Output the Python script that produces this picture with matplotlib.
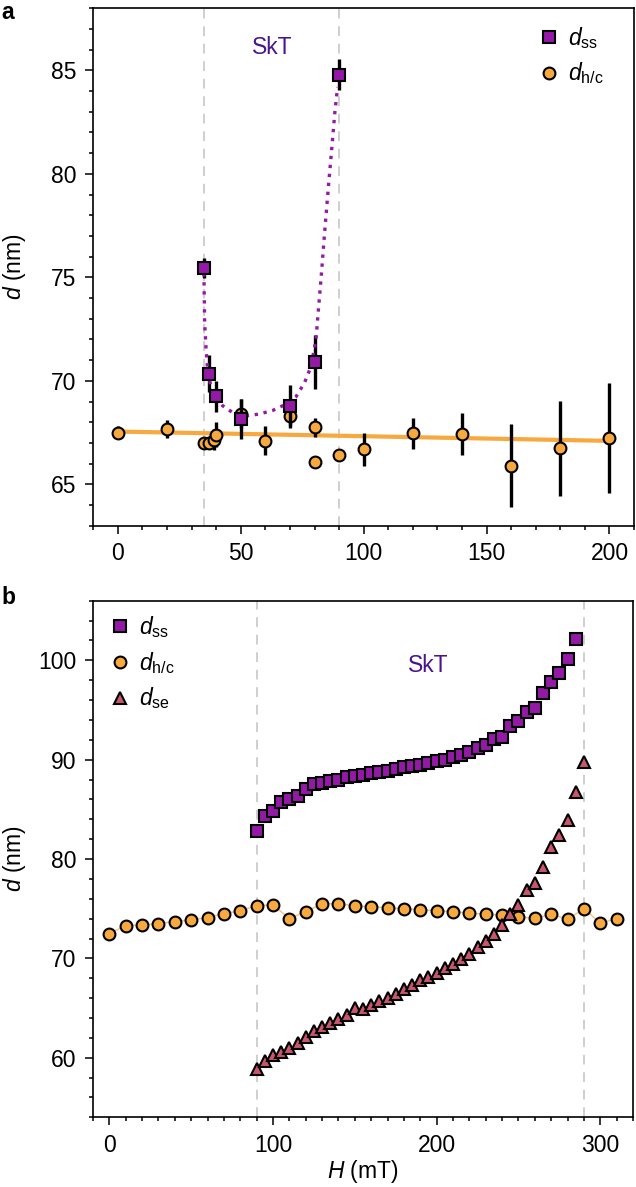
import matplotlib
matplotlib.use("Agg")
import matplotlib.pyplot as plt
from matplotlib.ticker import MultipleLocator

plt.rcParams['font.family'] = ['Liberation Sans', 'DejaVu Sans']
plt.rcParams['mathtext.fontset'] = 'custom'
plt.rcParams['mathtext.rm'] = 'Liberation Sans'
plt.rcParams['mathtext.it'] = 'Liberation Sans:italic'

# colours
PURPLE = '#9419a6'
ORANGE = '#f7a83e'
ROSE = '#c9566c'
SKT = '#4a1490'
GREY = '#cfcfcf'

# ---- panel a data ----
a_ss_x = [35, 37, 40, 50, 70, 80, 90]
a_ss_y = [75.45, 70.35, 69.25, 68.15, 68.8, 70.9, 84.8]
a_ss_err = [0.5, 0.9, 0.75, 0.95, 1.0, 1.3, 0.75]

a_hc_x = [0, 20, 35, 37, 39, 40, 50, 60, 70, 80, 80, 90, 100, 120, 140, 160, 180, 200]
a_hc_y = [67.5, 67.67, 67.0, 67.0, 67.15, 67.4, 68.4, 67.1, 68.3, 67.76, 66.1, 66.4,
          66.7, 67.47, 67.44, 65.9, 66.75, 67.25]
a_hc_err = [0.3, 0.45, 0, 0, 0.5, 0.6, 0.7, 0.7, 0.6, 0.45, 0, 0,
            0.8, 0.75, 1.0, 2.0, 2.3, 2.65]

a_fit_x = [0, 200]
a_fit_y = [67.55, 67.1]

a_curve_x = [35.0, 35.3, 35.9, 36.6, 37.9, 39.9, 42.6, 46.7, 52.1, 57.6, 63.0, 68.4,
             72.5, 75.9, 78.6, 80.6, 81.7, 82.7, 84.0, 85.6, 87.0, 88.3, 89.4]
a_curve_y = [75.2, 72.8, 71.5, 70.4, 69.7, 69.25, 68.8, 68.47, 68.3, 68.4, 68.57, 68.87,
             69.24, 69.9, 70.7, 72.0, 73.6, 75.0, 77.0, 79.3, 81.2, 83.0, 84.2]

# ---- panel b data ----
b_ss_x = list(range(90, 290, 5))
b_ss_y = [82.8, 84.3, 84.8, 85.7, 86.0, 86.3, 87.0, 87.6, 87.7, 87.9,
          88.0, 88.25, 88.4, 88.5, 88.7, 88.8, 88.9, 89.1, 89.3, 89.4,
          89.5, 89.7, 89.9, 90.0, 90.3, 90.5, 90.8, 91.2, 91.5, 92.1,
          92.3, 93.4, 93.9, 94.8, 95.2, 96.7, 97.8, 98.7, 100.1, 102.1]

b_hc_x = list(range(0, 320, 10))
b_hc_y = [72.5, 73.3, 73.35, 73.5, 73.7, 73.9, 74.1, 74.5, 74.8, 75.3,
          75.4, 74.0, 74.7, 75.5, 75.5, 75.3, 75.2, 75.1, 75.0, 74.9,
          74.8, 74.7, 74.55, 74.45, 74.35, 74.15, 74.05, 74.45, 73.95, 75.0,
          73.55, 74.0]

b_se_x = list(range(90, 295, 5))
b_se_y = [58.9, 59.65, 60.25, 60.6, 61.0, 61.45, 62.1, 62.7, 63.05, 63.45,
          63.9, 64.35, 65.0, 64.95, 65.35, 65.7, 66.05, 66.45, 66.9, 67.3,
          67.8, 68.15, 68.55, 69.0, 69.4, 69.9, 70.4, 71.1, 71.75, 72.45,
          73.4, 74.5, 75.4, 76.9, 77.55, 79.2, 81.2, 82.4, 83.9, 86.7, 89.8]

FS = 16.5

fig = plt.figure(figsize=(6.36, 11.87), dpi=100)
ax1 = fig.add_axes([0.1467, 0.5571, 0.8502, 0.4359])
ax2 = fig.add_axes([0.1462, 0.0587, 0.8491, 0.4352])


def style_axes(ax):
    for s in ax.spines.values():
        s.set_linewidth(1.2)
    ax.tick_params(which='both', direction='out', top=False, right=False,
                   labelsize=FS, width=1.1)
    ax.tick_params(which='major', length=6, pad=6)
    ax.tick_params(which='minor', length=3)


# ---- panel a ----
for xv in [35, 90]:
    ax1.axvline(xv, color=GREY, lw=1.4, ls=(0, (5, 4)), zorder=1)
ax1.plot(a_fit_x, a_fit_y, color=ORANGE, lw=3, zorder=2, solid_capstyle='butt')
ax1.errorbar(a_hc_x, a_hc_y, yerr=a_hc_err, fmt='none', ecolor='black',
             elinewidth=2.4, capsize=0, zorder=3)
ax1.plot(a_hc_x, a_hc_y, 'o', ms=8.5, mfc=ORANGE, mec='black', mew=1.5, zorder=4)
ax1.errorbar(a_ss_x, a_ss_y, yerr=a_ss_err, fmt='none', ecolor='black',
             elinewidth=2.4, capsize=0, zorder=5)
ax1.plot(a_curve_x, a_curve_y, color=PURPLE, lw=2.4, ls=(0, (1, 1.7)), zorder=5.5)
ax1.plot(a_ss_x, a_ss_y, 's', ms=8, mfc=PURPLE, mec='black', mew=1.5, zorder=6)

h1, = ax1.plot([], [], 's', ms=8, mfc=PURPLE, mec='black', mew=1.5)
h2, = ax1.plot([], [], 'o', ms=8.5, mfc=ORANGE, mec='black', mew=1.5)
ax1.legend([h1, h2], ['$d_{\\mathrm{ss}}$', '$d_{\\mathrm{h/c}}$'], loc='upper right',
           bbox_to_anchor=(0.975, 1.0), frameon=False, fontsize=FS, handletextpad=0.2,
           handlelength=1.2, labelspacing=0.4, borderaxespad=0.35)

ax1.text(63, 86.1, 'SkT', color=SKT, fontsize=FS, ha='center', va='center')
ax1.set_xlim(-10, 210)
ax1.set_ylim(63, 88)
ax1.xaxis.set_major_locator(MultipleLocator(50))
ax1.xaxis.set_minor_locator(MultipleLocator(10))
ax1.yaxis.set_major_locator(MultipleLocator(5))
ax1.yaxis.set_minor_locator(MultipleLocator(1))
ax1.set_ylabel('$d$ (nm)', fontsize=FS)
ax1.yaxis.set_label_coords(-0.12, 0.5)
style_axes(ax1)

# ---- panel b ----
for xv in [90, 290]:
    ax2.axvline(xv, color=GREY, lw=1.4, ls=(0, (5, 4)), zorder=1)
ax2.plot(b_hc_x, b_hc_y, '-', color=ORANGE, lw=1.0, alpha=0.7, zorder=2)
ax2.plot(b_hc_x, b_hc_y, 'o', ms=8.5, mfc=ORANGE, mec='black', mew=1.5, zorder=3,
         label='$d_{\\mathrm{h/c}}$')
ax2.plot(b_se_x, b_se_y, '^', ms=9, mfc=ROSE, mec='black', mew=1.5, zorder=4,
         label='$d_{\\mathrm{se}}$')
ax2.plot(b_ss_x, b_ss_y, 's', ms=8, mfc=PURPLE, mec='black', mew=1.5, zorder=5,
         label='$d_{\\mathrm{ss}}$')

hs, ls = ax2.get_legend_handles_labels()
order = [2, 0, 1]
ax2.legend([hs[i] for i in order], [ls[i] for i in order], loc='upper left',
           frameon=False, fontsize=FS, handletextpad=0.2, handlelength=1.2,
           labelspacing=0.42, borderaxespad=0.2)

ax2.text(195, 99.5, 'SkT', color=SKT, fontsize=FS, ha='center', va='center')
ax2.set_xlim(-10, 320)
ax2.set_ylim(54, 106)
ax2.xaxis.set_major_locator(MultipleLocator(100))
ax2.xaxis.set_minor_locator(MultipleLocator(10))
ax2.yaxis.set_major_locator(MultipleLocator(10))
ax2.yaxis.set_minor_locator(MultipleLocator(2))
ax2.set_ylabel('$d$ (nm)', fontsize=FS)
ax2.yaxis.set_label_coords(-0.12, 0.5)
ax2.set_xlabel('$H$ (mT)', fontsize=FS, labelpad=1)
style_axes(ax2)

fig.text(0.002, 0.999, 'a', fontsize=FS, fontweight='bold', va='top', ha='left')
fig.text(0.002, 0.5065, 'b', fontsize=FS, fontweight='bold', va='top', ha='left')

fig.savefig('out.png', dpi=100)
